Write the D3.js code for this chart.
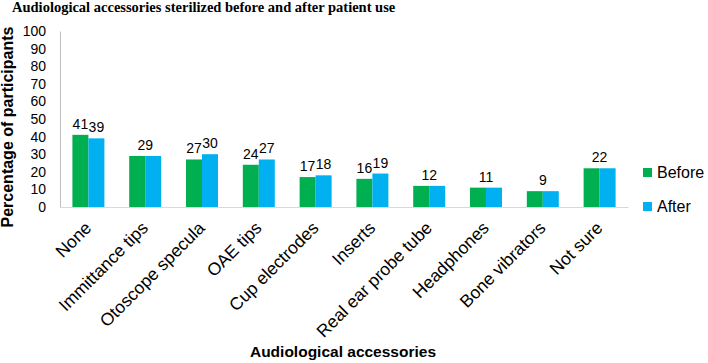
<!DOCTYPE html>
<html>
<head>
<meta charset="utf-8">
<script src="https://cdn.jsdelivr.net/npm/d3@7"></script>
<style>
  body { margin: 0; background: #fff; }
  svg { display: block; }
  text { font-family: "Liberation Sans", Arial, sans-serif; fill: #000; }
</style>
</head>
<body>
<svg id="chart" width="708" height="363"></svg>
<script>
const categories = ["None", "Immittance tips", "Otoscope specula", "OAE tips", "Cup electrodes",
  "Inserts", "Real ear probe tube", "Headphones", "Bone vibrators", "Not sure"];
const seriesNames = ["Before", "After"];
const before = [41, 29, 27, 24, 17, 16, 12, 11, 9, 22];
const after = [39, 29, 30, 27, 18, 19, 12, 11, 9, 22];
const yTicks = [0, 10, 20, 30, 40, 50, 60, 70, 80, 90, 100];
const colors = { Before: "#00B050", After: "#00B0F0" };

const svg = d3.select("#chart");
const x0 = 60, x1 = 628, yTop = 31, yBase = 207;

const xScale = d3.scaleBand().domain(categories).range([x0, x1])
  .paddingInner(0.437).paddingOuter(0.2185);
const xSub = d3.scaleBand().domain(seriesNames).range([0, xScale.bandwidth()]);
const yScale = d3.scaleLinear().domain([0, 100]).range([yBase, yTop]);

const rows = categories.map((c, i) => ({ cat: c, Before: before[i], After: after[i] }));

// Title
svg.append("text")
  .attr("x", 12).attr("y", 12)
  .style("font-family", "'Liberation Serif', 'Times New Roman', serif")
  .style("font-weight", "bold").style("font-size", "14.5px")
  .text("Audiological accessories sterilized before and after patient use");

// Y axis
const yAxis = d3.axisLeft(yScale).tickValues(yTicks).tickSize(0).tickPadding(14);
const gy = svg.append("g").attr("transform", `translate(${x0},0)`).call(yAxis);
gy.select(".domain").attr("stroke", "#bfbfbf");
gy.selectAll(".tick text").style("font-size", "14px").style("font-family", "'Liberation Sans', Arial, sans-serif").attr("fill", "#000");

// X baseline
const xAxis = d3.axisBottom(xScale).tickSize(0).tickFormat("");
const gx = svg.append("g").attr("transform", `translate(0,${yBase})`).call(xAxis);
gx.select(".domain").attr("stroke", "#d9d9d9");

// Bars
const groups = svg.append("g").selectAll("g").data(rows).join("g")
  .attr("transform", d => `translate(${xScale(d.cat)},0)`);
groups.selectAll("rect").data(d => seriesNames.map(s => ({ s, v: d[s] }))).join("rect")
  .attr("x", d => xSub(d.s))
  .attr("width", xSub.bandwidth())
  .attr("y", d => yScale(d.v))
  .attr("height", d => yBase - yScale(d.v))
  .attr("fill", d => colors[d.s]);

// Value labels
groups.each(function (d) {
  const g = d3.select(this);
  if (d.Before === d.After) {
    g.append("text")
      .attr("x", xScale.bandwidth() / 2).attr("y", yScale(d.Before) - 6)
      .attr("text-anchor", "middle").style("font-size", "14px").text(d.Before);
  } else {
    seriesNames.forEach(s => {
      g.append("text")
        .attr("x", xSub(s) + xSub.bandwidth() / 2).attr("y", yScale(d[s]) - 6)
        .attr("text-anchor", "middle").style("font-size", "14px").text(d[s]);
    });
  }
});

// Category labels
svg.append("g").selectAll("text").data(categories).join("text")
  .attr("transform", d => `translate(${xScale(d) + xScale.bandwidth() / 2 + 4},229) rotate(-45)`)
  .attr("text-anchor", "end")
  .style("font-size", "17.5px")
  .text(d => d);

// Axis titles
svg.append("text")
  .attr("transform", `translate(13,127) rotate(-90)`)
  .attr("text-anchor", "middle")
  .style("font-weight", "bold").style("font-size", "16px")
  .text("Percentage of participants");
svg.append("text")
  .attr("x", 343).attr("y", 357)
  .attr("text-anchor", "middle")
  .style("font-weight", "bold").style("font-size", "15.5px")
  .text("Audiological accessories");

// Legend
const leg = svg.append("g").selectAll("g").data(seriesNames).join("g")
  .attr("transform", (d, i) => `translate(643,${168 + i * 34})`);
leg.append("rect").attr("width", 9).attr("height", 9).attr("fill", d => colors[d]);
leg.append("text").attr("x", 14).attr("y", 4.5).attr("dy", "0.35em")
  .style("font-size", "16px").text(d => d);
</script>
</body>
</html>
